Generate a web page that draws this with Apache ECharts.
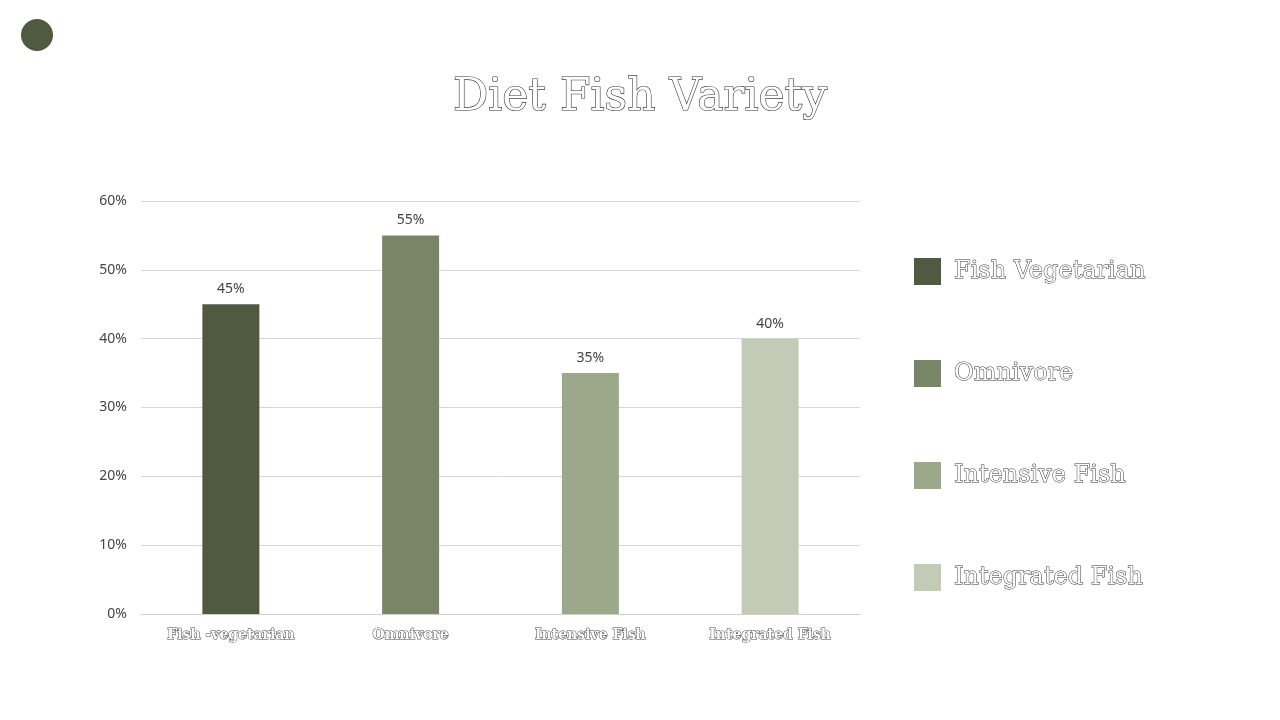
<!DOCTYPE html><html><head><meta charset="utf-8"><script src="https://cdn.jsdelivr.net/npm/echarts@6/dist/echarts.min.js"></script></head><body style="margin:0"><div id="c" style="width:1280px;height:720px"></div><script>
const categories=['Fish -vegetarian','Omnivore','Intensive Fish','Integrated Fish'];
const seriesNames=['Fish Vegetarian','Omnivore','Intensive Fish','Integrated Fish'];
const values=[45,55,35,40];
const colors=['#4f5a40','#788566','#9ca88a','#c3cbb7'];
const yTicks=[0,10,20,30,40,50,60];
const serif='DejaVu Serif';
const ch=echarts.init(document.getElementById('c'));
ch.setOption({
 animation:false,
 title:{text:'Diet Fish Variety',left:'center',top:72,textStyle:{fontFamily:serif,fontSize:44,fontWeight:'normal',color:'#fff',textBorderColor:'#333',textBorderWidth:1.2}},
 graphic:[{type:'circle',shape:{cx:37,cy:35,r:16},style:{fill:'#4f5a40'}}],
 legend:{orient:'vertical',left:909,top:253,itemWidth:27,itemHeight:27,itemGap:75,icon:'rect',
  textStyle:{fontFamily:serif,fontSize:24,color:'#fff',textBorderColor:'#333',textBorderWidth:1,padding:[0,0,0,8]}},
 grid:{left:141,right:420,top:201,bottom:106},
 xAxis:{type:'category',data:categories,axisTick:{show:false},axisLine:{lineStyle:{color:'#d0d0d0'}},
  axisLabel:{fontFamily:serif,fontSize:14,fontWeight:'bold',color:'#fff',textBorderColor:'#444',textBorderWidth:1,margin:14}},
 yAxis:{type:'value',min:0,max:60,interval:10,axisLabel:{formatter:v=>v+'%',fontSize:14,color:'#444',fontFamily:'Noto Sans',margin:14},splitLine:{lineStyle:{color:'#d6d6d6'}}},
 series:seriesNames.map((n,i)=>({name:n,type:'bar',stack:'a',barWidth:57,itemStyle:{color:colors[i]},
  data:values.map((v,j)=>j===i?v:'-'),
  label:{show:true,position:'top',formatter:p=>p.value+'%',fontSize:14,color:'#444',fontFamily:'Noto Sans',distance:8}}))
});
</script></body></html>
